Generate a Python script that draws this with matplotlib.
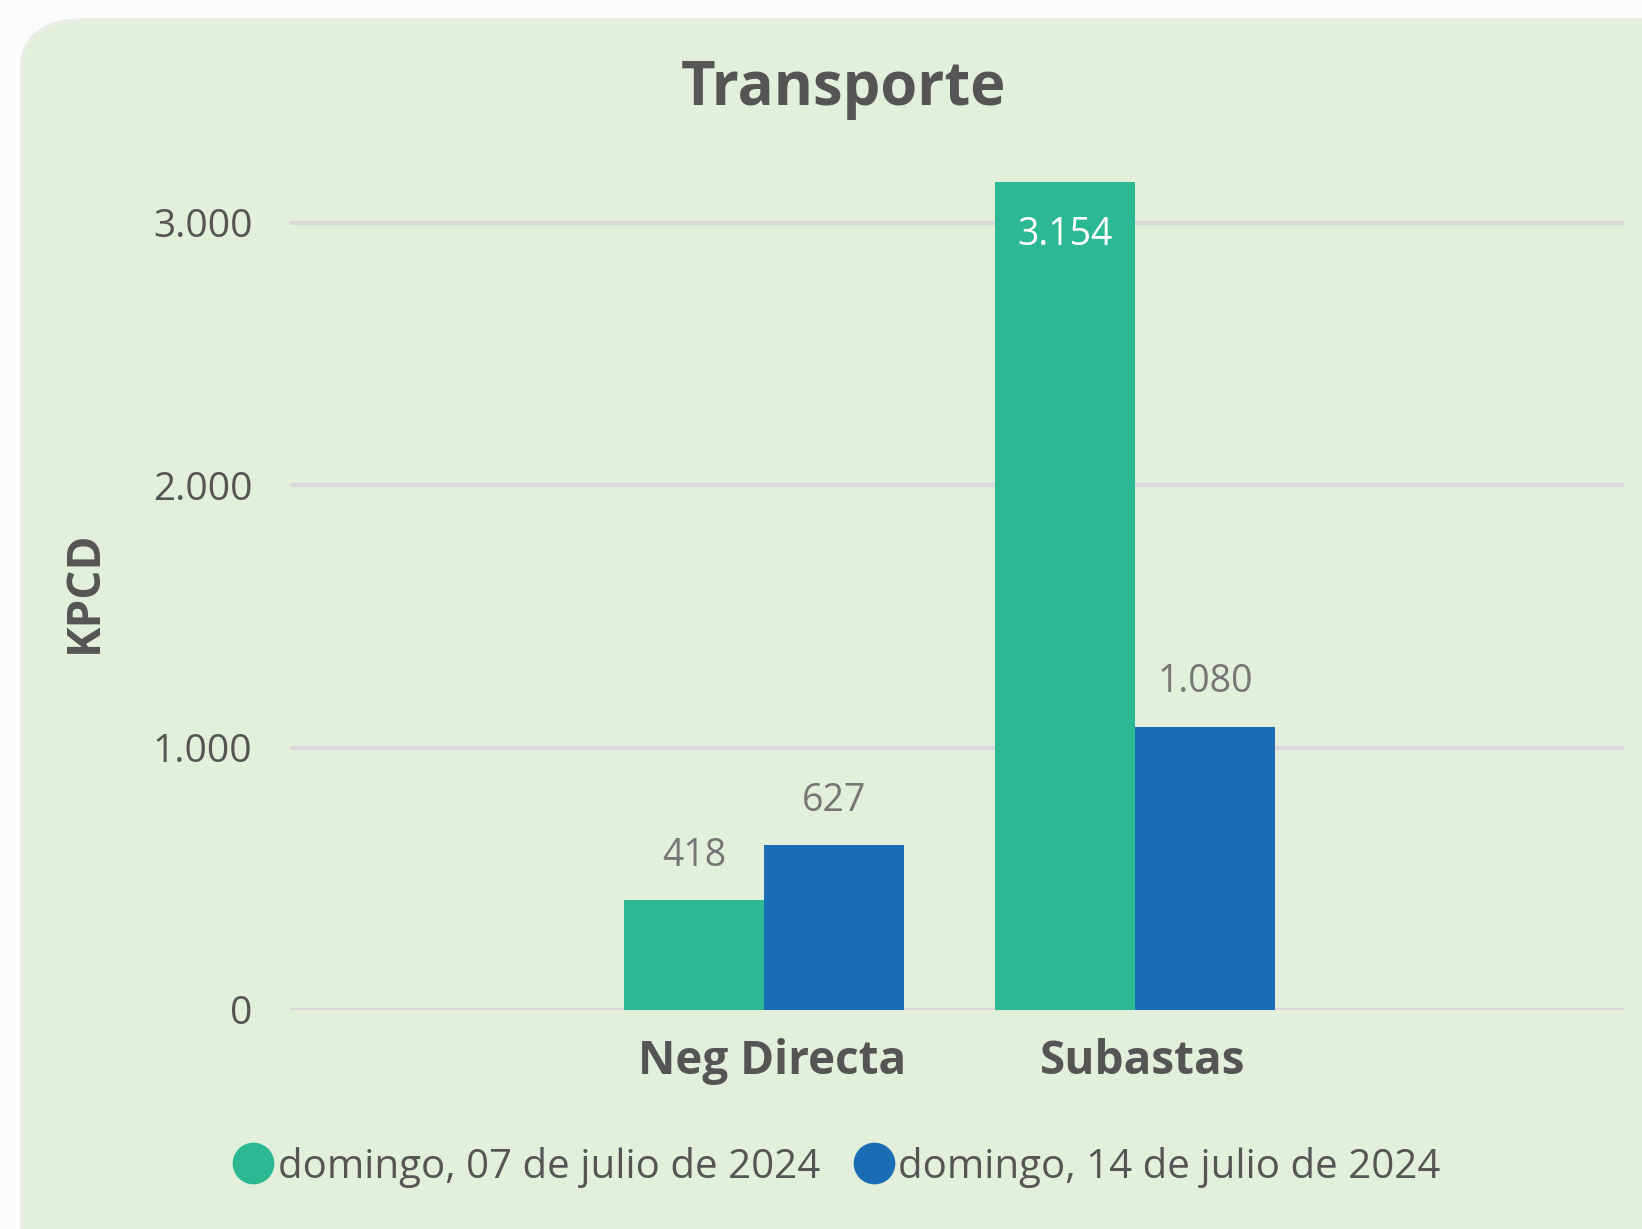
import matplotlib
matplotlib.use("Agg")
import matplotlib.pyplot as plt
from matplotlib.patches import FancyBboxPatch
from matplotlib.lines import Line2D
from matplotlib.transforms import ScaledTranslation
import numpy as np

# data
categories = ["Neg Directa", "Subastas"]
series_names = ["domingo, 07 de julio de 2024", "domingo, 14 de julio de 2024"]
values_07 = [418, 3154]
values_14 = [627, 1080]
yticks = [0, 1000, 2000, 3000]
ytick_labels = ["0", "1.000", "2.000", "3.000"]

GREEN = "#2DB894"
BLUE = "#1A6CB4"
PANEL = "#E2EFDA"
TXT = "#555555"
LBL = "#767676"

plt.rcParams["font.family"] = ["Open Sans", "DejaVu Sans"]

W, H = 1642, 1229
fig = plt.figure(figsize=(W / 100, H / 100), dpi=100)
fig.patch.set_facecolor("#FCFCFC")

# rounded panel behind the chart
panel = FancyBboxPatch((22 / W, -0.2), 1.2, (H - 20) / H + 0.2,
                       boxstyle="round,pad=0,rounding_size=0.04",
                       transform=fig.transFigure, facecolor=PANEL,
                       edgecolor="#E8EEE4", lw=3, zorder=-10)
fig.patches.append(panel)

ax = fig.add_axes([290 / W, (H - 1010) / H, (1624 - 290) / W, 3.3 * 262.5 / H])
ax.set_facecolor("none")

x = np.arange(len(categories))
bw = 0.377
b1 = ax.bar(x - bw / 2, values_07, bw, color=GREEN, zorder=3)
b2 = ax.bar(x + bw / 2, values_14, bw, color=BLUE, zorder=3)

ax.set_xlim(-1.278, 2.318)
ax.set_ylim(0, 3300)
ax.set_yticks(yticks)
ax.set_yticklabels(ytick_labels)
ax.yaxis.grid(True, color="#DAD8DA", lw=3, zorder=0)
ax.set_axisbelow(True)
for s in ax.spines.values():
    s.set_visible(False)
ax.tick_params(axis="y", length=0, pad=27, labelsize=28, labelcolor=TXT)
ax.tick_params(axis="x", length=0, pad=20)
ax.set_xticks(x)
ax.set_xticklabels(categories, fontsize=33, fontweight="bold", color=TXT)
for lab in ax.get_xticklabels():
    lab.set_transform(lab.get_transform() + ScaledTranslation(8 / 100, 0, fig.dpi_scale_trans))


def fmt(v):
    return f"{v:,}".replace(",", ".")


for bars in (b1, b2):
    for r in bars:
        v = r.get_height()
        cx = r.get_x() + r.get_width() / 2
        if v > 3000:
            ax.annotate(fmt(int(v)), (cx, v), xytext=(0, -38), textcoords="offset points",
                        ha="center", va="center", fontsize=27, color="white", zorder=4)
        else:
            ax.annotate(fmt(int(v)), (cx, v), xytext=(0, 32), textcoords="offset points",
                        ha="center", va="center", fontsize=27, color=LBL, zorder=4)

fig.text(84 / W, 1 - 592 / H, "KPCD", rotation=90, ha="center", va="center",
         fontsize=33, fontweight="bold", color=TXT)
fig.text(843 / W, 1 - 89 / H, "Transporte", ha="center", va="center",
         fontsize=43, fontweight="bold", color=TXT)

handles = [Line2D([], [], marker="o", ls="", ms=29, color=c) for c in (GREEN, BLUE)]
fig.legend(handles, series_names, loc="center", bbox_to_anchor=(838 / W, 1 - 1167 / H),
           ncol=2, frameon=False, fontsize=29, labelcolor=TXT, handletextpad=0.15,
           columnspacing=0.9, handlelength=0.9)

fig.savefig("out.png", dpi=100)
